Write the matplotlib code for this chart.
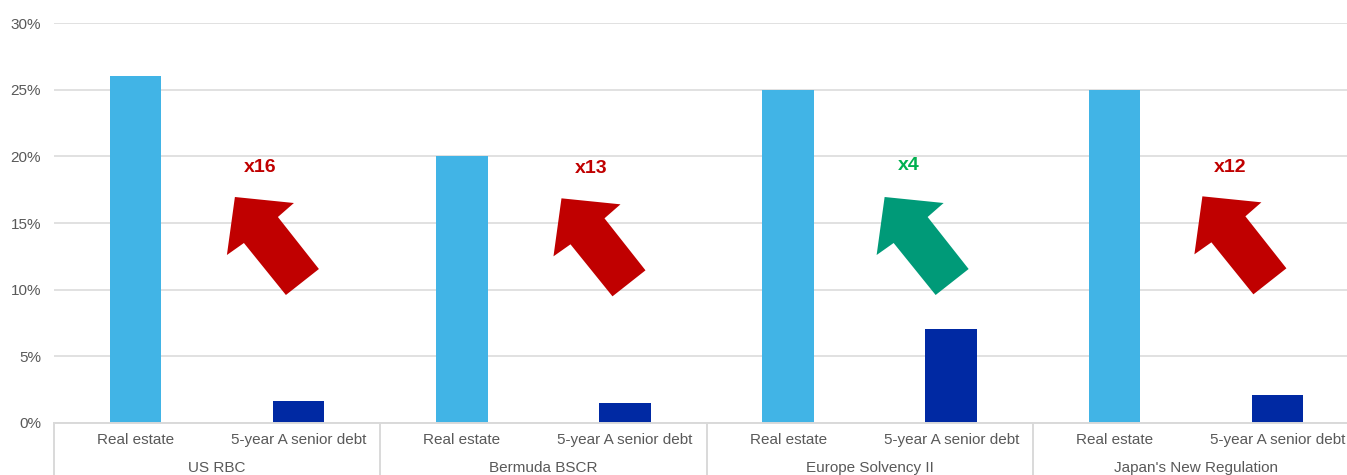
import matplotlib
matplotlib.use("Agg")
import matplotlib.pyplot as plt
import matplotlib.transforms as mtransforms
from matplotlib.patches import Polygon

plt.rcParams['font.family'] = ['Liberation Sans', 'DejaVu Sans']

# ---- data ----
groups = ["US RBC", "Bermuda BSCR", "Europe Solvency II", "Japan's New Regulation"]
subcats = ["Real estate", "5-year A senior debt"]
real_estate = [26.0, 20.0, 25.0, 25.0]
senior_debt = [1.65, 1.5, 7.05, 2.1]
multipliers = ["x16", "x13", "x4", "x12"]
mult_colors = ["#C00000", "#C00000", "#00B050", "#C00000"]
arrow_colors = ["#C00000", "#C00000", "#009A78", "#C00000"]
y_ticks = [0, 5, 10, 15, 20, 25, 30]
y_tick_labels = ["0%", "5%", "10%", "15%", "20%", "25%", "30%"]

# annotation anchor positions (category units, %)
arrow_tip_x = [0.609, 2.611, 4.592, 6.540]
arrow_tip_y = [16.95, 16.85, 16.95, 17.0]
label_x = [0.762, 2.795, 4.739, 6.712]
label_y = [19.2, 19.1, 19.3, 19.2]

W, H = 1347, 475
fig = plt.figure(figsize=(W / 100, H / 100), dpi=100)
ax = fig.add_axes([54 / W, 52 / H, 1305 / W, 400 / H])

grid_c = "#D9D9D9"
text_c = "#595959"

n = len(groups)
x_re = [2 * i for i in range(n)]
x_db = [2 * i + 1 for i in range(n)]
bw = 0.315
ax.bar(x_re, real_estate, width=bw, color="#41B4E6", zorder=3)
ax.bar(x_db, senior_debt, width=bw, color="#0029A3", zorder=3)

ax.set_xlim(-0.5, 2 * n - 0.5)
ax.set_ylim(0, 30)
ax.set_yticks(y_ticks)
ax.set_yticklabels(y_tick_labels, color=text_c, fontsize=11)
ax.tick_params(axis='y', length=0, pad=9.4)
ax.set_xticks([])
for s in ["top", "right", "left", "bottom"]:
    ax.spines[s].set_visible(False)
ax.yaxis.grid(True, color=grid_c, linewidth=1.1, zorder=0)
ax.set_axisbelow(True)

# bottom axis line
ax.axhline(0, color=grid_c, linewidth=1.4, zorder=4, clip_on=False)

blend = mtransforms.blended_transform_factory(ax.transData, ax.transAxes)
# group separators
for k in range(n + 1):
    xs = 2 * k - 0.5
    ax.plot([xs, xs], [0, -0.14], transform=blend, color=grid_c,
            linewidth=1.4, clip_on=False, zorder=4)

# category labels
for i in range(n):
    for j, sc in enumerate(subcats):
        ax.text(2 * i + j, -0.0425, sc, transform=blend, ha="center", va="center",
                fontsize=11, color=text_c)
    ax.text(2 * i + 0.5, -0.1125, groups[i], transform=blend, ha="center", va="center",
            fontsize=11, color=text_c)

# block arrows (shape in pixel offsets from tip, y downwards)
shape = [(0, 0), (59, 6), (43, 20), (84, 72), (51, 98), (9, 46), (-8, 58)]
for i in range(n):
    tr = mtransforms.Affine2D().scale(1, -1) + mtransforms.ScaledTranslation(
        arrow_tip_x[i], arrow_tip_y[i], ax.transData)
    poly = Polygon(shape, closed=True, facecolor=arrow_colors[i], edgecolor="none",
                   transform=tr, zorder=5)
    ax.add_patch(poly)
    ax.text(label_x[i], label_y[i], multipliers[i], ha="center", va="center",
            fontsize=14, fontweight="bold", color=mult_colors[i], zorder=6)

fig.savefig("out.png", dpi=100)
